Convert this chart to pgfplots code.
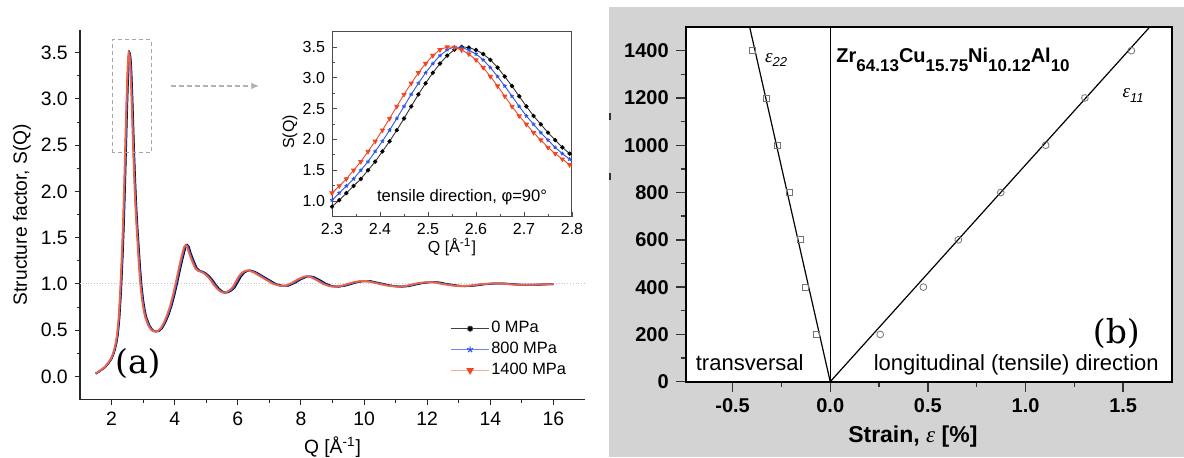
\documentclass[border=0pt]{standalone}
\usepackage{pgfplots}
\pgfplotsset{compat=1.18}
\usepackage{pgfplotstable}
\usepackage{fontspec}
\setmainfont{Liberation Sans}
\newfontfamily\panelfont{DejaVu Serif}
\newfontfamily\greekfont{Liberation Serif}
\usetikzlibrary{arrows.meta}

\definecolor{czero}{RGB}{0,0,0}
\definecolor{ceight}{RGB}{45,85,230}
\definecolor{cfourteen}{RGB}{240,70,35}
\definecolor{panelgray}{RGB}{211,211,211}

% S(Q) of the glass; Qb and Qr are the scattering vectors under 800 and 1400 MPa
\pgfplotstableread{
Q Qb Qr S
1.50 1.491 1.482 0.03
1.60 1.590 1.581 0.05
1.70 1.690 1.680 0.075
1.80 1.789 1.778 0.10
1.90 1.889 1.877 0.14
2.00 1.988 1.976 0.19
2.05 2.038 2.025 0.23
2.10 2.087 2.075 0.28
2.15 2.137 2.124 0.35
2.20 2.187 2.174 0.45
2.25 2.237 2.223 0.63
2.300 2.285 2.270 0.91
2.315 2.300 2.285 1.015
2.330 2.315 2.300 1.13
2.345 2.330 2.315 1.245
2.360 2.345 2.330 1.36
2.375 2.360 2.345 1.50
2.390 2.375 2.360 1.64
2.405 2.390 2.375 1.805
2.420 2.405 2.390 1.97
2.435 2.420 2.405 2.15
2.450 2.435 2.420 2.34
2.465 2.450 2.435 2.535
2.480 2.465 2.450 2.73
2.495 2.480 2.465 2.91
2.510 2.495 2.480 3.08
2.525 2.510 2.495 3.23
2.540 2.525 2.510 3.36
2.555 2.540 2.525 3.455
2.570 2.555 2.540 3.50
2.585 2.570 2.555 3.49
2.600 2.585 2.570 3.45
2.615 2.600 2.585 3.385
2.630 2.615 2.600 3.29
2.645 2.630 2.615 3.165
2.660 2.645 2.630 3.02
2.675 2.660 2.645 2.865
2.690 2.675 2.660 2.70
2.705 2.690 2.675 2.535
2.720 2.705 2.690 2.38
2.735 2.720 2.705 2.245
2.750 2.735 2.720 2.11
2.765 2.750 2.735 1.99
2.780 2.765 2.750 1.87
2.795 2.780 2.765 1.77
2.810 2.795 2.780 1.68
2.825 2.810 2.795 1.59
2.840 2.825 2.810 1.51
2.90 2.883 2.865 1.20
2.95 2.932 2.915 0.98
3.00 2.982 2.964 0.83
3.05 3.032 3.013 0.72
3.10 3.081 3.063 0.64
3.20 3.181 3.162 0.55
3.30 3.280 3.260 0.50
3.40 3.380 3.359 0.485
3.50 3.479 3.458 0.49
3.60 3.578 3.557 0.52
3.70 3.678 3.656 0.58
3.80 3.777 3.754 0.66
3.90 3.877 3.853 0.76
4.00 3.976 3.952 0.89
4.10 4.075 4.051 1.04
4.20 4.175 4.150 1.20
4.30 4.274 4.248 1.34
4.35 4.324 4.298 1.40
4.40 4.374 4.347 1.42
4.45 4.423 4.397 1.40
4.50 4.473 4.446 1.34
4.60 4.572 4.545 1.25
4.70 4.672 4.644 1.17
4.80 4.771 4.742 1.14
4.90 4.871 4.841 1.13
5.00 4.970 4.940 1.11
5.10 5.069 5.039 1.08
5.20 5.169 5.138 1.04
5.30 5.268 5.236 0.99
5.40 5.368 5.335 0.95
5.50 5.467 5.434 0.92
5.60 5.566 5.533 0.905
5.70 5.666 5.632 0.91
5.80 5.765 5.730 0.93
5.90 5.865 5.829 0.96
6.00 5.964 5.928 1.02
6.10 6.063 6.027 1.08
6.20 6.163 6.126 1.12
6.30 6.262 6.224 1.14
6.40 6.362 6.323 1.145
6.50 6.461 6.422 1.135
6.60 6.560 6.521 1.12
6.70 6.660 6.620 1.10
6.80 6.759 6.718 1.08
6.90 6.859 6.817 1.06
7.00 6.958 6.916 1.04
7.20 7.157 7.114 1.00
7.40 7.356 7.311 0.98
7.60 7.554 7.509 0.98
7.80 7.753 7.706 1.01
8.00 7.952 7.904 1.05
8.20 8.151 8.102 1.08
8.30 8.250 8.200 1.08
8.40 8.350 8.299 1.075
8.60 8.548 8.497 1.04
8.80 8.747 8.694 1.00
9.00 8.946 8.892 0.975
9.20 9.145 9.090 0.97
9.40 9.344 9.287 0.98
9.60 9.542 9.485 1.00
9.80 9.741 9.682 1.02
10.00 9.940 9.880 1.03
10.20 10.139 10.078 1.03
10.40 10.338 10.275 1.015
10.60 10.536 10.473 1.00
10.80 10.735 10.670 0.985
11.00 10.934 10.868 0.975
11.20 11.133 11.066 0.97
11.40 11.332 11.263 0.975
11.60 11.530 11.461 0.99
11.80 11.729 11.658 1.005
12.00 11.928 11.856 1.015
12.20 12.127 12.054 1.02
12.40 12.326 12.251 1.015
12.60 12.524 12.449 1.00
12.80 12.723 12.646 0.99
13.00 12.922 12.844 0.98
13.20 13.121 13.042 0.975
13.40 13.320 13.239 0.978
13.60 13.518 13.437 0.985
13.80 13.717 13.634 0.995
14.00 13.916 13.832 1.00
14.20 14.115 14.030 1.005
14.40 14.314 14.227 1.005
14.60 14.512 14.425 1.00
14.80 14.711 14.622 0.995
15.00 14.910 14.820 0.99
15.20 15.109 15.018 0.99
15.40 15.308 15.215 0.99
15.60 15.506 15.413 0.992
15.80 15.705 15.610 0.995
16.00 16.000 16.000 0.995
}\sqmain

% first peak, sampled points
\pgfplotstableread{
Q S0 S800 S1400
2.300 0.91 1.015 1.13
2.315 1.015 1.13 1.245
2.330 1.13 1.245 1.36
2.345 1.245 1.36 1.50
2.360 1.36 1.50 1.64
2.375 1.50 1.64 1.805
2.390 1.64 1.805 1.97
2.405 1.805 1.97 2.15
2.420 1.97 2.15 2.34
2.435 2.15 2.34 2.535
2.450 2.34 2.535 2.73
2.465 2.535 2.73 2.91
2.480 2.73 2.91 3.08
2.495 2.91 3.08 3.23
2.510 3.08 3.23 3.36
2.525 3.23 3.36 3.455
2.540 3.36 3.455 3.50
2.555 3.455 3.50 3.49
2.570 3.50 3.49 3.45
2.585 3.49 3.45 3.385
2.600 3.45 3.385 3.29
2.615 3.385 3.29 3.165
2.630 3.29 3.165 3.02
2.645 3.165 3.02 2.865
2.660 3.02 2.865 2.70
2.675 2.865 2.70 2.535
2.690 2.70 2.535 2.38
2.705 2.535 2.38 2.245
2.720 2.38 2.245 2.11
2.735 2.245 2.11 1.99
2.750 2.11 1.99 1.87
2.765 1.99 1.87 1.77
2.780 1.87 1.77 1.68
2.795 1.77 1.68 1.59
2.810 1.68 1.59 1.51
}\sqinset

% transversal strain eps22 and longitudinal strain eps11 vs stress
\pgfplotstableread{
e s
-0.397 1400
-0.327 1200
-0.273 1000
-0.210 800
-0.153 600
-0.128 400
-0.073 200
}\epstwo
\pgfplotstableread{
e s
0.256 200
0.477 400
0.656 600
0.873 800
1.103 1000
1.304 1200
1.542 1400
}\epsone

\begin{document}
\begin{tikzpicture}
\useasboundingbox (0,0) rectangle (592pt,228.5pt);
\fill[panelgray] (304.5pt,0) rectangle (592pt,225pt);
\draw[black!80, line width=0.8pt] (304.9pt,172pt) -- (304.9pt,168.5pt);
\draw[black!80, line width=0.8pt] (304.9pt,142pt) -- (304.9pt,138.5pt);

% ---------------- (a) structure factor ----------------
\begin{axis}[
  at={(40pt,28.75pt)}, anchor=south west, scale only axis,
  width=252.5pt, height=185pt,
  xmin=1, xmax=17, ymin=-0.25, ymax=3.75,
  axis x line*=bottom, axis y line*=left,
  axis line style={black!85, line width=0.6pt},
  tick align=outside,
  xtick={2,4,...,16}, minor x tick num=1,
  ytick={0,0.5,1,1.5,2,2.5,3,3.5}, minor y tick num=1,
  major tick length=2.6pt, minor tick length=1.6pt,
  every tick/.style={black!85, line width=0.5pt},
  /pgf/number format/assume math mode=true,
  yticklabel style={/pgf/number format/.cd, fixed, fixed zerofill, precision=1},
  tick label style={font=\fontsize{9.7}{11}\selectfont},
  xlabel={Q [Å\textsuperscript{-1}]},
  ylabel={Structure factor, S(Q)},
  label style={font=\fontsize{9.6}{11}\selectfont},
  xlabel style={at={(axis description cs:0.5,0)}, anchor=center, yshift=-24pt},
  ylabel style={at={(axis description cs:0,0.5)}, anchor=center, yshift=29pt},
  legend cell align=left,
  legend image code/.code={\draw[mark repeat=2, mark phase=2] plot coordinates {(0cm,0cm) (0.33cm,0cm) (0.66cm,0cm)};},
  legend style={draw=none, fill=none, font=\fontsize{8.2}{9}\selectfont,
    at={(axis cs:12.55,0.29)}, anchor=west, row sep=1.2pt,
    nodes={inner sep=1pt}},
]
\addplot[gray!45, densely dotted, line width=0.4pt, forget plot] coordinates {(1,1) (17,1)};
\addplot[czero, line width=0.9pt, forget plot] table[x=Q, y=S] {\sqmain};
\addplot[ceight, line width=0.9pt, forget plot] table[x=Qb, y=S] {\sqmain};
\addplot[cfourteen!85!white, line width=0.9pt, forget plot] table[x=Qr, y=S] {\sqmain};

\addlegendimage{black!75, line width=0.4pt, mark=*, mark size=1.3pt, mark options={fill=black}}
\addlegendentry{0 MPa}
\addlegendimage{ceight!70, line width=0.4pt, mark=star, mark size=1.6pt, mark options={ceight, line width=0.6pt}}
\addlegendentry{800 MPa}
\addlegendimage{cfourteen!45, line width=0.4pt, mark=triangle*, mark size=1.8pt, mark options={rotate=180, fill=cfourteen, draw=cfourteen}}
\addlegendentry{1400 MPa}

\draw[gray!70, dash pattern=on 2pt off 1.5pt, line width=0.5pt]
  (axis cs:2.02,2.42) rectangle (axis cs:3.25,3.64);
\draw[gray!60, dash pattern=on 2.5pt off 1.5pt, line width=0.7pt, -{Latex[length=4pt,width=3.4pt]}]
  (axis cs:3.89,3.14) -- (axis cs:6.68,3.14);
\node[font=\panelfont\fontsize{16.5}{18}\selectfont] at (axis cs:2.835,0.14) {(a)};
\end{axis}

% ---------------- (a) inset: first peak ----------------
\begin{axis}[
  at={(166pt,120.25pt)}, anchor=south west, scale only axis,
  width=120pt, height=92.5pt,
  xmin=2.3, xmax=2.8, ymin=0.75, ymax=3.75,
  axis line style={black!70, line width=0.5pt},
  tick align=inside, tick pos=left,
  xtick={2.3,2.4,2.5,2.6,2.7,2.8}, minor x tick num=1,
  ytick={1,1.5,2,2.5,3,3.5}, minor y tick num=1,
  major tick length=2.4pt, minor tick length=1.4pt,
  every tick/.style={black!70, line width=0.4pt},
  /pgf/number format/assume math mode=true,
  xticklabel style={/pgf/number format/.cd, fixed, fixed zerofill, precision=1},
  yticklabel style={/pgf/number format/.cd, fixed, fixed zerofill, precision=1},
  tick label style={font=\fontsize{8}{9}\selectfont},
  xlabel={Q [Å\textsuperscript{-1}]},
  ylabel={S(Q)},
  label style={font=\fontsize{8}{9}\selectfont},
  xlabel style={at={(axis description cs:0.5,0)}, anchor=center, yshift=-15.3pt},
  ylabel style={at={(axis description cs:0,0.5)}, anchor=center, yshift=21pt, xshift=-4pt},
]
\addplot[czero!80, line width=0.45pt, mark=*, mark size=0.85pt, mark options={fill=black, draw=black}] table[x=Q, y=S0] {\sqinset};
\addplot[ceight, line width=0.45pt, mark=star, mark size=1.0pt, mark options={line width=0.5pt}] table[x=Q, y=S800] {\sqinset};
\addplot[cfourteen, line width=0.45pt, mark=triangle*, mark size=1.15pt, mark options={rotate=180, fill=cfourteen}] table[x=Q, y=S1400] {\sqinset};
\node[font=\fontsize{8.3}{9}\selectfont] at (axis cs:2.571,1.07) {tensile direction, φ=90°};
\end{axis}

% ---------------- (b) elastic strains ----------------
\begin{axis}[
  at={(342.85pt,37.65pt)}, anchor=south west, scale only axis,
  width=243.15pt, height=177.35pt,
  xmin=-0.74, xmax=1.75, ymin=0, ymax=1500,
  axis background/.style={fill=white},
  axis line style={black, line width=1pt},
  tick align=outside, tick pos=left,
  xtick={-0.5,0,0.5,1,1.5}, minor x tick num=1,
  ytick={0,200,400,600,800,1000,1200,1400}, minor y tick num=1,
  major tick length=5pt, minor tick length=2.6pt,
  every tick/.style={black!80, line width=0.7pt},
  /pgf/number format/assume math mode=true,
  xticklabel style={/pgf/number format/.cd, fixed, fixed zerofill, precision=1},
  yticklabel style={/pgf/number format/.cd, fixed, 1000 sep={}},
  tick label style={font=\bfseries\fontsize{10}{12}\selectfont},
  xlabel={Strain, {\greekfont\itshape\mdseries ε} [\%]},
  xlabel style={font=\bfseries\fontsize{11.5}{13}\selectfont,
    at={(axis description cs:0.5,0)}, anchor=center, yshift=-27.6pt, xshift=-8pt},
]
\addplot[black, line width=0.6pt] coordinates {(0,0) (0,1500)};
\addplot[black, line width=0.6pt] coordinates {(0,0) (-0.4126,1500)};
\addplot[black, line width=0.6pt] coordinates {(0,0) (1.636,1500)};
\addplot[only marks, mark=square, mark size=1.5pt, mark options={draw=black!55, line width=0.4pt}] table[x=e, y=s] {\epstwo};
\addplot[only marks, mark=o, mark size=1.7pt, mark options={draw=black!55, line width=0.4pt}] table[x=e, y=s] {\epsone};

\node[anchor=base west, inner sep=0pt] at (axis cs:-0.335,1352)
  {\greekfont\itshape\fontsize{9.5}{10}\selectfont ε\raisebox{-2.2pt}{\fontspec{Liberation Sans}\itshape\fontsize{6.5}{7}\selectfont 22}};
\node[anchor=base west, inner sep=0pt] at (axis cs:1.495,1200)
  {\greekfont\itshape\fontsize{9.5}{10}\selectfont ε\raisebox{-2.2pt}{\fontspec{Liberation Sans}\itshape\fontsize{6.5}{7}\selectfont 11}};
\node[anchor=base west, inner sep=0pt, font=\bfseries\fontsize{10}{12}\selectfont] at (axis cs:0.03,1348)
  {Zr\raisebox{-4.5pt}{\fontsize{8.5}{9}\selectfont 64.13}Cu\raisebox{-4.5pt}{\fontsize{8.5}{9}\selectfont 15.75}Ni\raisebox{-4.5pt}{\fontsize{8.5}{9}\selectfont 10.12}Al\raisebox{-4.5pt}{\fontsize{8.5}{9}\selectfont 10}};
\node[anchor=base west, inner sep=0pt, font=\fontsize{11}{12}\selectfont] at (axis cs:-0.69,49) {transversal};
\node[anchor=base west, inner sep=0pt, font=\fontsize{11}{12}\selectfont] at (axis cs:0.221,49) {longitudinal (tensile) direction};
\node[font=\panelfont\fontsize{16.5}{18}\selectfont] at (axis cs:1.465,203) {(b)};
\end{axis}
\end{tikzpicture}
\end{document}
